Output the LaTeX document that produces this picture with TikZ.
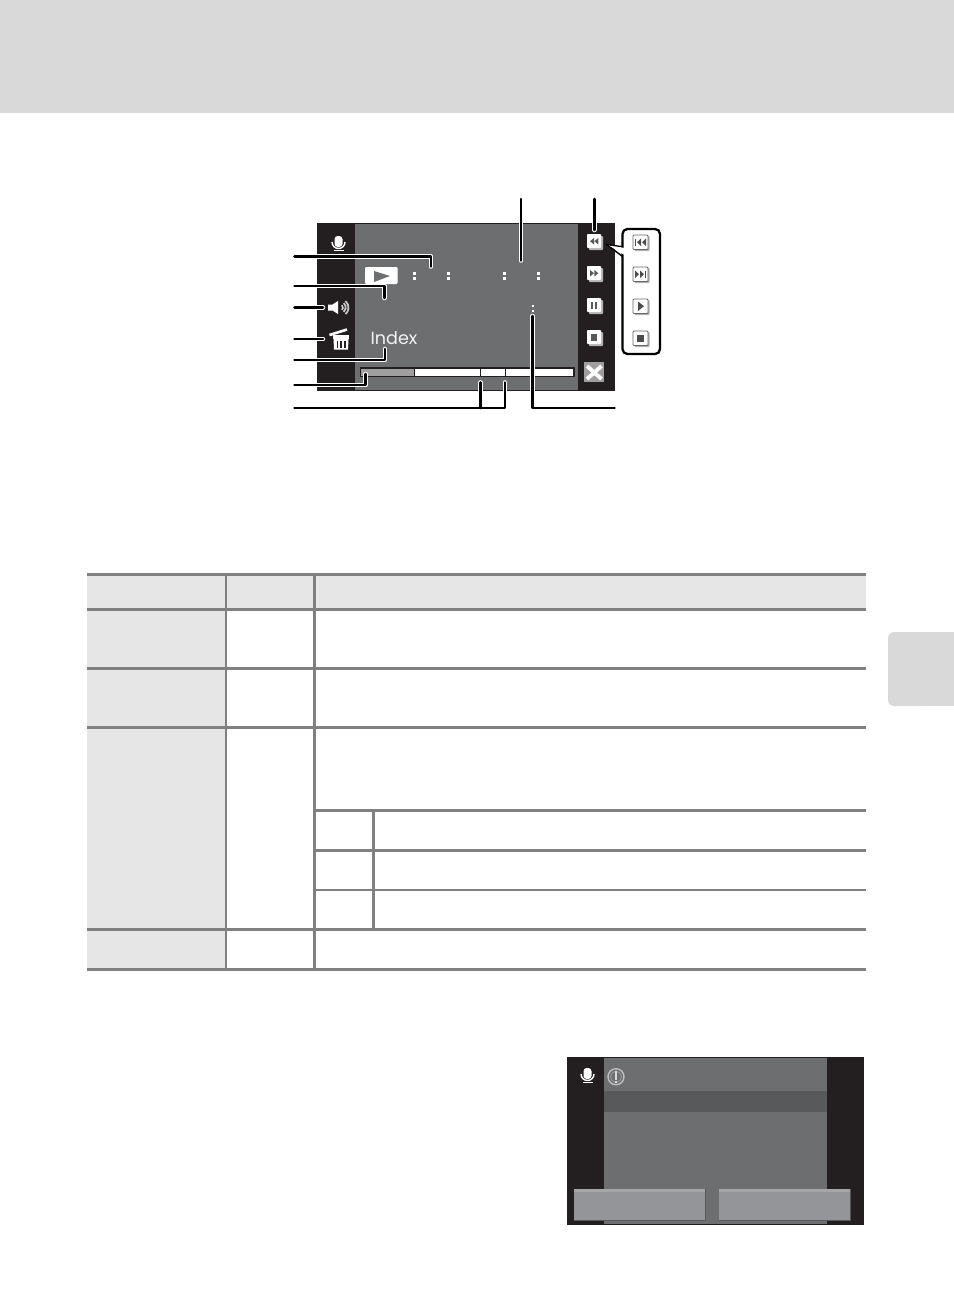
\documentclass[tikz,border=0pt]{standalone}
\usepackage{fontspec}
\setsansfont{Poppins}
\definecolor{scrblack}{HTML}{231F20}
\definecolor{scrgray}{HTML}{6D6E70}
\definecolor{scrdark}{HTML}{58595B}
\definecolor{btngray}{HTML}{939598}
\definecolor{rulegray}{HTML}{808080}
\definecolor{cellgray}{HTML}{E6E6E6}
\definecolor{bandgray}{HTML}{D9D9D9}
\tikzstyle{rule} = [rulegray, line width=3*0.567pt]
\tikzstyle{leaderhalo} = [white, line width=4.6*0.567pt, line cap=round, line join=round]
\tikzstyle{leader} = [black, line width=2.7*0.567pt, line cap=round, line join=round]
\tikzstyle{softkey} = [fill=white, rounded corners=0.5pt]
\tikzstyle{softshadow} = [fill=gray!60, rounded corners=0.5pt]
\tikzstyle{popkey} = [fill=white, draw=gray!80!black, line width=0.5pt, rounded corners=0.5pt]
\tikzstyle{glyph} = [fill=black!65]
\tikzstyle{popglyph} = [fill=black!70]
\newcommand{\micicon}[2]{
        \fill [white, rounded corners=1.8pt] (#1-4,#2-8) rectangle (#1+4,#2+3);
        \draw [white, line width=0.8pt] (#1-6.5,#2-2) arc (180:0:6.5 and 6.5);
        \fill [white] (#1-5,#2+6) rectangle (#1+5,#2+7.2);
}
\begin{document}
\begin{tikzpicture}[x=0.02cm,y=-0.02cm]
        \useasboundingbox (0,0) rectangle (954,1313);
        \fill [bandgray] (0,0) rectangle (954,112.5);
        \fill [bandgray, rounded corners=3.5pt] (930,632) -- (888,632) -- (888,706) -- (930,706) -- cycle;
        \fill [bandgray] (915,632) rectangle (954,706);

        \fill [cellgray] (87,574) rectangle (866,609);
        \fill [cellgray] (87,609) rectangle (226,969);
        \draw [rule] (87,574.3) -- (866,574.3);
        \draw [rule] (87,609.3) -- (866,609.3);
        \draw [rule] (87,668.3) -- (866,668.3);
        \draw [rule] (87,727.3) -- (866,727.3);
        \draw [rule] (314,810.3) -- (866,810.3);
        \draw [rule] (314,850.3) -- (866,850.3);
        \draw [rule, line width=2*0.567pt] (314,889.7) -- (866,889.7);
        \draw [rule] (87,929.3) -- (866,929.3);
        \draw [rule] (87,969.3) -- (866,969.3);
        \draw [rule] (226,574) -- (226,970);
        \draw [rule] (314.3,574) -- (314.3,970);
        \draw [rule] (373.3,810) -- (373.3,929);

        \fill [scrblack] (317,223) rectangle (615,390.5);
        \fill [scrgray] (355,224) rectangle (578,390);
        \micicon{338.5}{244}
        \fill [gray!75] (361,369) rectangle (414,376);
        \fill [white] (414,369) rectangle (573.5,376);
        \draw [scrblack, line width=0.7pt] (360.5,368) rectangle (574,376.5);
        \draw [scrblack, line width=0.7pt] (414.5,368) -- (414.5,376.5);
        \draw [scrblack, line width=0.7pt] (480.5,368) rectangle (505.5,376.5);

        \fill [white, rounded corners=0.6pt] (365,267) rectangle (397.5,284);
        \fill [scrgray] (374,271) -- (390,276) -- (374,282) -- cycle;
        \fill [white] (413,272) rectangle (415.5,274.5);
        \fill [white] (413,277) rectangle (415.5,279.5);
        \fill [white] (447,272) rectangle (449.5,274.5);
        \fill [white] (447,277) rectangle (449.5,279.5);
        \fill [white] (503,272) rectangle (505.5,274.5);
        \fill [white] (503,277) rectangle (505.5,279.5);
        \fill [white] (537,272) rectangle (539.5,274.5);
        \fill [white] (537,277) rectangle (539.5,279.5);
        \fill [white] (532,304.5) rectangle (534,306.5);
        \fill [white] (532,309.5) rectangle (534,311.5);

        \fill [white] (328,304.5) -- (332.5,304.5) -- (338,301) -- (338,314) -- (332.5,310.5) -- (328,310.5) -- cycle;
        \draw [gray!45, line width=1pt] (341.9,305.2) arc (-50:50:3);
        \draw [gray!45, line width=1pt] (343.7,303.1) arc (-50:50:5.7);
        \draw [gray!45, line width=1pt] (345.5,301) arc (-50:50:8.5);

        \fill [white] (333,335) rectangle (349,339);
        \fill [white] (333.5,339) -- (348.5,339) -- (348,349.5) -- (334,349.5) -- cycle;
        \fill [scrblack] (336.5,341) rectangle (338.2,347.5);
        \fill [scrblack] (340.2,341) rectangle (341.9,347.5);
        \fill [scrblack] (343.9,341) rectangle (345.6,347.5);
        \draw [scrblack, line width=0.6pt] (331,334.6) -- (349,334.6);
        \draw [white, line width=1.5pt] (329.5,335) -- (347,329.5);

        \node (indexlabel) [text=white!95!black, inner sep=0pt, font=\sffamily\fontsize{10pt}{12pt}\selectfont] at (394,338) {Index};

        \fill [softshadow] (589,236) rectangle (603,250);
        \fill [softkey] (587,234) rectangle (601,248);
        \fill [glyph] (594,238) -- (594,244.5) -- (590,241.2) -- cycle;
        \fill [glyph] (598.3,238) -- (598.3,244.5) -- (594.3,241.2) -- cycle;
        \fill [softshadow] (589,268) rectangle (603,282);
        \fill [softkey] (587,266) rectangle (601,280);
        \fill [glyph] (590,270) -- (590,276.5) -- (594,273.2) -- cycle;
        \fill [glyph] (594.3,270) -- (594.3,276.5) -- (598.3,273.2) -- cycle;
        \fill [softshadow] (589,300) rectangle (603,314);
        \fill [softkey] (587,298) rectangle (601,312);
        \fill [glyph] (590.7,302) rectangle (593,309);
        \fill [glyph] (595,302) rectangle (597.3,309);
        \fill [softshadow] (589,332) rectangle (603,346);
        \fill [softkey] (587,330) rectangle (601,344);
        \fill [glyph] (590.7,334) rectangle (597,340.5);
        \fill [gray!75] (584,362) rectangle (604,382);
        \draw [white, line width=2.2pt] (587,366) -- (601.5,379);
        \draw [white, line width=2.2pt] (601.5,366) -- (587,379);

        \draw [black, fill=white, line width=1.3pt, rounded corners=2.8pt] (622.5,229) rectangle (660,354);
        \draw [black, line width=0.8pt, line join=miter] (622.5,246.7) -- (607,244.7) -- (622.5,256.5);
        \fill [white] (609,245.6) -- (624.5,248) -- (624.5,255) -- cycle;
        \fill [softshadow] (634.5,236) rectangle (649.5,251);
        \draw [popkey] (633,235) rectangle (648,249.5);
        \fill [popglyph] (635,238.5) rectangle (636,246);
        \fill [popglyph] (641,238.5) -- (641,246) -- (637,242.2) -- cycle;
        \fill [popglyph] (646,238.5) -- (646,246) -- (642,242.2) -- cycle;
        \fill [softshadow] (634.5,268) rectangle (649.5,283);
        \draw [popkey] (633,267) rectangle (648,281.5);
        \fill [popglyph] (635,270.5) -- (635,278) -- (639,274.2) -- cycle;
        \fill [popglyph] (640,270.5) -- (640,278) -- (644,274.2) -- cycle;
        \fill [popglyph] (645,270.5) rectangle (646,278);
        \fill [softshadow] (634.5,300) rectangle (649.5,315);
        \draw [popkey] (633,299) rectangle (648,313.5);
        \fill [popglyph] (638,301.5) -- (638,311) -- (644,306.2) -- cycle;
        \fill [softshadow] (634.5,332) rectangle (649.5,347);
        \draw [popkey] (633,331) rectangle (648,345.5);
        \fill [popglyph] (637,334.5) rectangle (644,342);

        \coordinate (timetop) at (521,199);
        \coordinate (timeend) at (521,260.5);
        \coordinate (rewtop) at (594.3,199);
        \coordinate (rewend) at (594.3,230);
        \coordinate (recfree) at (294.5,256.7);
        \coordinate (recend) at (431,266.5);
        \coordinate (playfree) at (294.5,286);
        \coordinate (playend) at (384.7,298);
        \coordinate (volfree) at (294.5,307.3);
        \coordinate (volend) at (323,307.3);
        \coordinate (delfree) at (294.5,339);
        \coordinate (delend) at (323,339);
        \coordinate (idxfree) at (294.5,360);
        \coordinate (idxend) at (385,349);
        \coordinate (barfree) at (294.5,385);
        \coordinate (barend) at (365.7,374);
        \coordinate (spanfree) at (294.5,408);
        \coordinate (spanleft) at (480.7,382.5);
        \coordinate (spanright) at (505,382.5);
        \coordinate (dotfree) at (614.5,408);
        \coordinate (dotend) at (532.5,316);

        \draw [leaderhalo] (timetop) -- (timeend);
        \draw [leaderhalo] (rewtop) -- (rewend);
        \draw [leaderhalo] (recfree) -| (recend);
        \draw [leaderhalo] (playfree) -| (playend);
        \draw [leaderhalo] (volfree) -- (volend);
        \draw [leaderhalo] (delfree) -- (delend);
        \draw [leaderhalo] (idxfree) -| (idxend);
        \draw [leaderhalo] (barfree) -| (barend);
        \draw [leaderhalo] (spanfree) -| (spanright);
        \draw [leaderhalo] (spanleft) -- (spanleft |- spanfree);
        \draw [leaderhalo] (dotfree) -| (dotend);
        \draw [leader] (timetop) -- (timeend);
        \draw [leader] (rewtop) -- (rewend);
        \draw [leader] (recfree) -| (recend);
        \draw [leader] (playfree) -| (playend);
        \draw [leader] (volfree) -- (volend);
        \draw [leader] (delfree) -- (delend);
        \draw [leader] (idxfree) -| (idxend);
        \draw [leader] (barfree) -| (barend);
        \draw [leader] (spanfree) -| (spanright);
        \draw [leader] (spanleft) -- (spanleft |- spanfree);
        \draw [leader] (dotfree) -| (dotend);

        \fill [scrblack] (567,1057) rectangle (864,1225);
        \fill [scrgray] (604,1058) rectangle (827,1224);
        \fill [scrdark] (604,1091) rectangle (827,1112);
        \micicon{587.5}{1076}
        \draw [white!75!black, line width=0.8pt] (616,1076.7) circle (8);
        \draw [white!60!black, line width=0.5pt] (616,1076.7) circle (5.5);
        \fill [white!85!black] (615,1071) rectangle (617,1079.5);
        \fill [white!85!black] (615,1081) rectangle (617,1083);
        \fill [scrdark] (574,1189) rectangle (706,1221);
        \fill [btngray] (574,1189) rectangle (704.5,1220);
        \fill [gray!70] (574,1189) rectangle (704.5,1191.5);
        \fill [scrdark] (719,1189) rectangle (851,1221);
        \fill [btngray] (719,1189) rectangle (849.5,1220);
        \fill [gray!70] (719,1189) rectangle (849.5,1191.5);
\end{tikzpicture}
\end{document}
